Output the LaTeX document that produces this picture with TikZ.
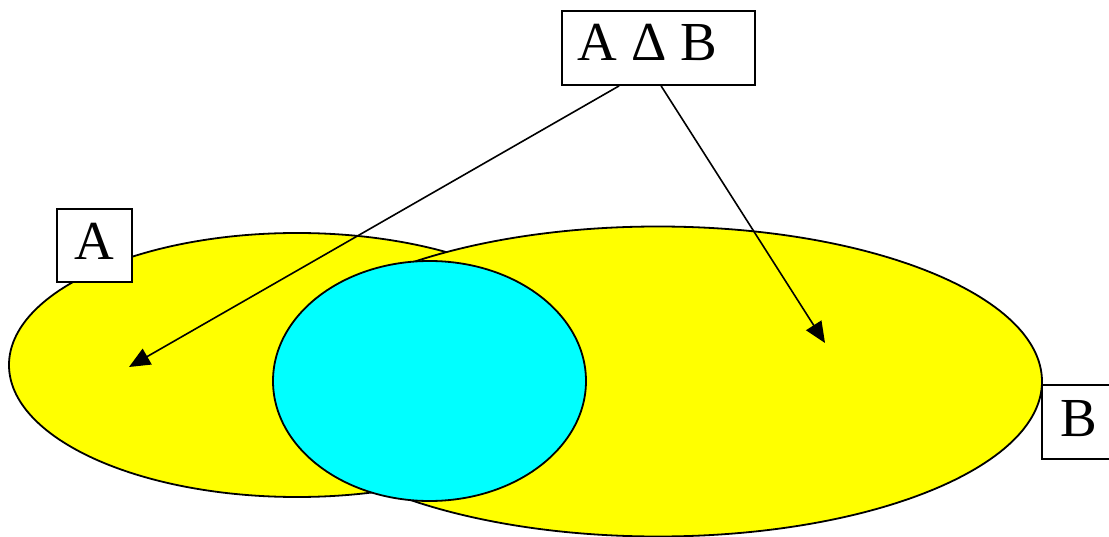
\documentclass[tikz,border=0pt]{standalone}
\usepackage{fontspec}
\setmainfont{Liberation Serif}
\usetikzlibrary{arrows.meta}
\definecolor{setyellow}{RGB}{255,255,0}
\definecolor{setcyan}{RGB}{0,255,255}
\begin{document}
\begin{tikzpicture}[x=1pt,y=-1pt,line width=1.8pt,
  setshape/.style={draw=black,line width=1.8pt},
  lbl/.style={draw=black,fill=white,line width=1.8pt,inner sep=0pt,
    font=\fontsize{55}{60}\selectfont,text height=36pt},
  arr/.style={line width=1.6pt,-{Triangle[length=21pt,width=18pt]}}]
\useasboundingbox (0,0) rectangle (1109,537);
\fill[white] (0,0) rectangle (1109,537);
% sets
\path[setshape,fill=setyellow] (297,365) ellipse [x radius=288, y radius=132];
\path[setshape,fill=setyellow] (658,381.5) ellipse [x radius=384, y radius=155];
\path[setshape,fill=setcyan] (429.5,381) ellipse [x radius=156.5, y radius=120];
% labels
\node[lbl,minimum width=75pt,minimum height=73pt,text depth=7pt] (la) at (94.5,245.5) {A};
\node[lbl,minimum width=73pt,minimum height=74pt,text depth=7pt] (lb) at (1078.5,422) {B};
\node[lbl,minimum width=193pt,minimum height=74pt,text depth=11pt] (ab) at (658.5,48) {A Δ B\kern 22pt\null};
% arrows
\coordinate (s1) at ([xshift=58pt]ab.south west);
\coordinate (s2) at ([xshift=100pt]ab.south west);
\coordinate (t1) at (129,367);
\coordinate (t2) at (825,343);
\draw[arr] (s1) -- (t1);
\draw[arr] (s2) -- (t2);
\end{tikzpicture}
\end{document}
